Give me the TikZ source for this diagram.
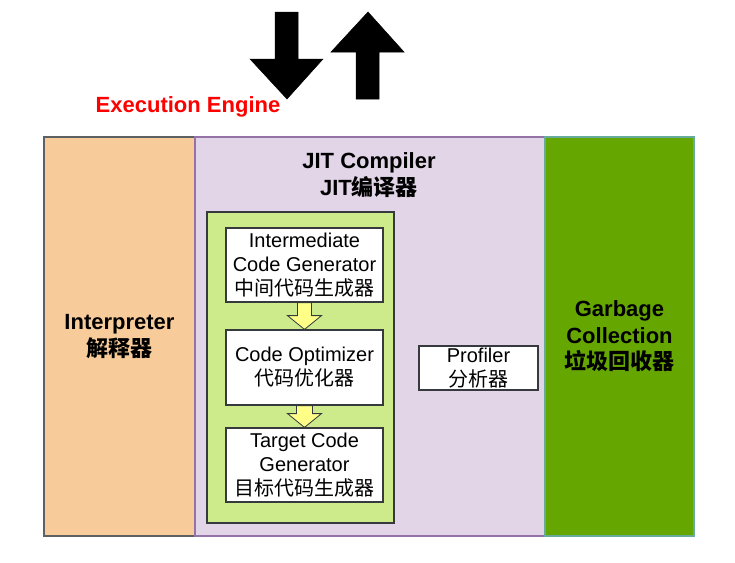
\documentclass[tikz,border=0pt]{standalone}
\usepackage{fontspec}
\setmainfont{Liberation Sans}
\newfontfamily\cjk{Noto Sans CJK SC}
\usetikzlibrary{calc}
\definecolor{orangefill}{HTML}{F8CC9A}
\definecolor{jitfill}{HTML}{E1D5E7}
\definecolor{jitline}{HTML}{9673A6}
\definecolor{gcfill}{HTML}{66A600}
\definecolor{gcline}{HTML}{67AB9F}
\definecolor{greenfill}{HTML}{CDEB8B}
\definecolor{darkline}{HTML}{36393D}
\definecolor{yellowfill}{HTML}{FFFF88}
\tikzset{
  x=1pt, y=-1pt,
  panel/.style={draw, line width=1.2pt, minimum width=#1, inner sep=0pt, minimum height=399pt, align=center, font=\fontsize{22}{26.5}\selectfont\bfseries},
  stagebox/.style={draw=darkline, fill=white, line width=1.2pt, minimum width=157pt, minimum height=74pt, inner sep=0pt, align=center, font=\fontsize{20}{24}\selectfont},
  blockarrow/.style={fill=yellowfill, draw=darkline, line width=0.8pt},
  bigarrow/.style={fill=black, draw=black, line width=0.5pt},
}
\begin{document}
\begin{tikzpicture}
\useasboundingbox (0,0) rectangle (735,562);
\node[panel=151pt, fill=orangefill, draw=darkline!80] (interp) at (119.5,336.5) {Interpreter\\{\cjk\bfseries 解释器}};
\node[panel=350pt, fill=jitfill, draw=jitline] (jit) at (370,336.5) {};
\node[panel=149pt, fill=gcfill, draw=gcline] (gc) at (619.5,336.5) {Garbage\\Collection\\{\cjk\bfseries 垃圾回收器}};
\node[align=center, font=\fontsize{22}{27}\selectfont\bfseries] (jitlabel) at (369,175) {JIT Compiler\\JIT{\cjk\bfseries 编译器}};
\node[draw=darkline, fill=greenfill, line width=1.2pt, minimum width=187pt, minimum height=311pt, inner sep=0pt] (inner) at (300.5,367.5) {};
\node[stagebox] (im) at (304.5,265) {Intermediate\\Code Generator\\{\cjk 中间代码生成器}};
\node[stagebox, minimum height=75pt] (opt) at (304.5,367.5) {Code Optimizer\\{\cjk 代码优化器}};
\node[stagebox] (tgt) at (304.5,465) {Target Code\\Generator\\{\cjk 目标代码生成器}};
\node[stagebox, minimum width=119pt, minimum height=44pt] (prof) at (478.5,368) {Profiler\\{\cjk 分析器}};
\node[text=red, font=\fontsize{22}{26}\selectfont\bfseries] (ee) at (188,107) {Execution Engine};
% yellow block arrows
\draw[blockarrow] ($(im.south)+(-7,0)$) -- ($(im.south)+(7,0)$) -- ($(im.south)+(7,13)$) -- ($(im.south)+(17,13)$)
  -- (opt.north) -- ($(im.south)+(-17,13)$) -- ($(im.south)+(-7,13)$) -- cycle;
\draw[blockarrow] ($(opt.south)+(-8,0)$) -- ($(opt.south)+(8,0)$) -- ($(opt.south)+(8,8)$) -- ($(opt.south)+(17,8)$)
  -- (tgt.north) -- ($(opt.south)+(-17,8)$) -- ($(opt.south)+(-8,8)$) -- cycle;
% big black arrows
\coordinate (downtip) at (287,99);
\coordinate (uptip) at (368,12);
\draw[bigarrow] ($(downtip)+(-12,-87)$) -- ($(downtip)+(11,-87)$) -- ($(downtip)+(11,-40)$) -- ($(downtip)+(36,-40)$)
  -- (downtip) -- ($(downtip)+(-37,-40)$) -- ($(downtip)+(-12,-40)$) -- cycle;
\draw[bigarrow] (uptip) -- ($(uptip)+(36,40)$) -- ($(uptip)+(11,40)$) -- ($(uptip)+(11,87)$) -- ($(uptip)+(-12,87)$)
  -- ($(uptip)+(-12,40)$) -- ($(uptip)+(-37,40)$) -- cycle;
\end{tikzpicture}
\end{document}
